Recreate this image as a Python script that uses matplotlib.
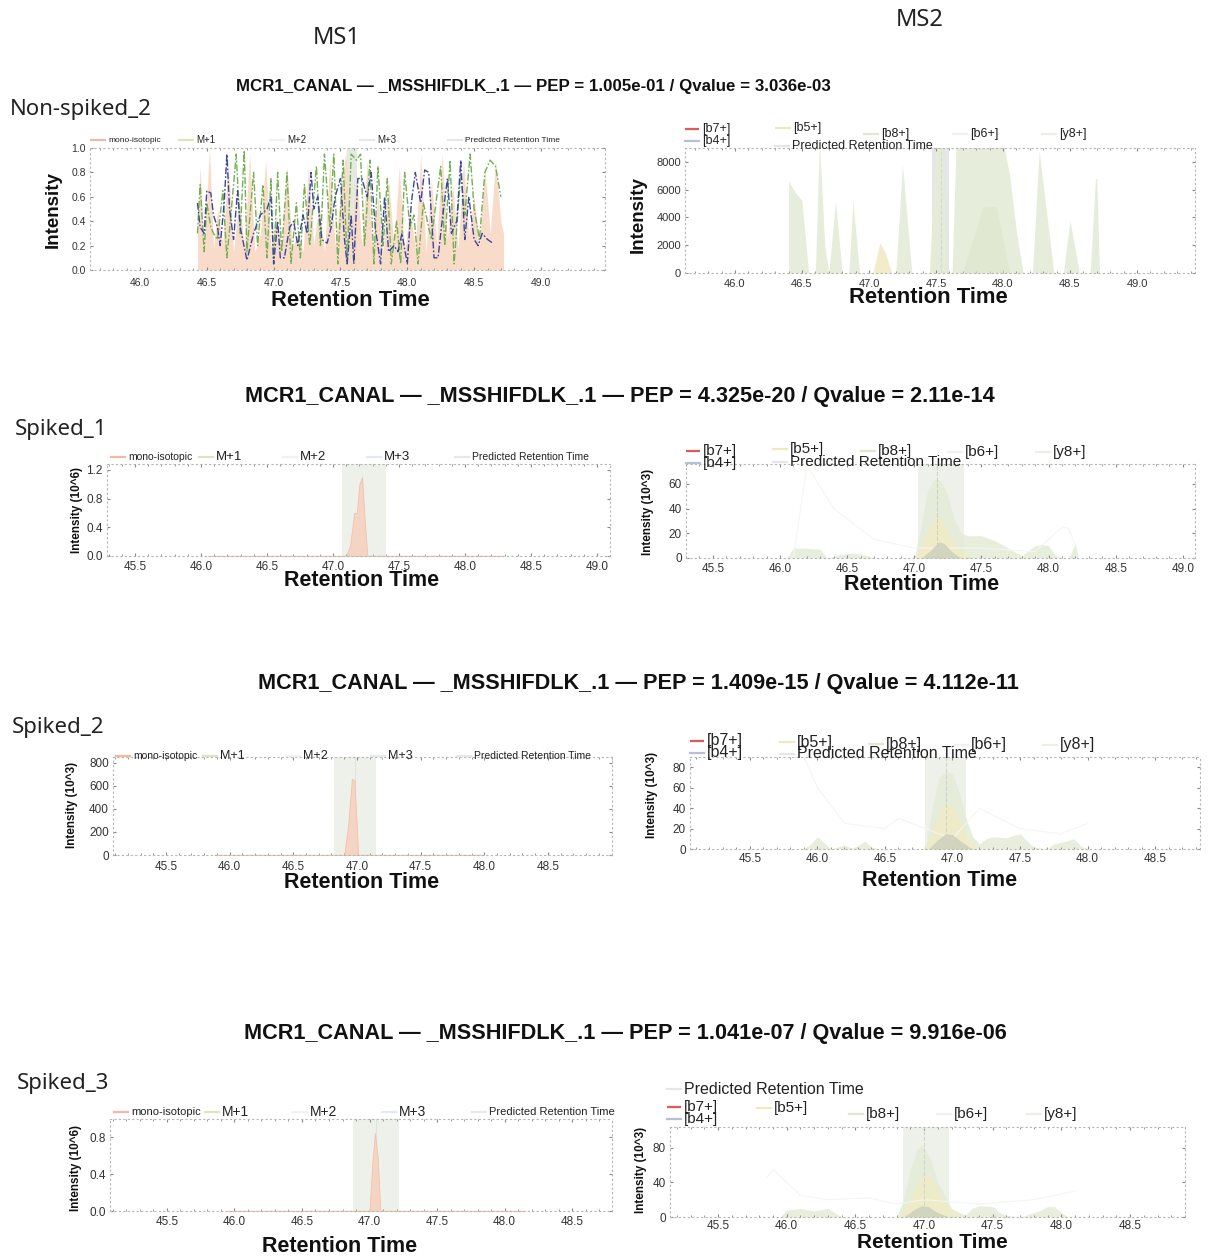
import matplotlib
matplotlib.use("Agg")
import matplotlib.pyplot as plt
from matplotlib.lines import Line2D
from matplotlib.ticker import MultipleLocator

# ---------------------------------------------------------------- data
titles = [
    "MCR1_CANAL — _MSSHIFDLK_.1 — PEP = 1.005e-01 / Qvalue = 3.036e-03",
    "MCR1_CANAL — _MSSHIFDLK_.1 — PEP = 4.325e-20 / Qvalue = 2.11e-14",
    "MCR1_CANAL — _MSSHIFDLK_.1 — PEP = 1.409e-15 / Qvalue = 4.112e-11",
    "MCR1_CANAL — _MSSHIFDLK_.1 — PEP = 1.041e-07 / Qvalue = 9.916e-06",
]
sample_names = ["Non-spiked_2", "Spiked_1", "Spiked_2", "Spiked_3"]
ms1_labels = ["mono-isotopic", "M+1", "M+2", "M+3", "Predicted Retention Time"]
ms2_labels = ["[b7+]", "[b4+]", "[b5+]", "Predicted Retention Time", "[b8+]", "[b6+]", "[y8+]"]

# Non-spiked_2, MS1 (normalised intensity)
r1_mono_t = [46.43, 46.45, 46.48, 46.52, 46.55, 46.58, 46.62, 46.66, 46.70, 46.74, 46.78,
             46.82, 46.86, 46.90, 46.94, 46.98, 47.02, 47.06, 47.10, 47.14, 47.18, 47.22,
             47.26, 47.30, 47.34, 47.38, 47.42, 47.46, 47.50, 47.54, 47.58, 47.62, 47.66,
             47.70, 47.74, 47.78, 47.82, 47.86, 47.90, 47.94, 47.98, 48.02, 48.06, 48.10,
             48.14, 48.18, 48.22, 48.26, 48.30, 48.34, 48.38, 48.42, 48.46, 48.50, 48.54,
             48.58, 48.62, 48.66, 48.70, 48.72]
r1_mono = [0.30, 0.85, 0.20, 1.00, 0.18, 0.50, 0.22, 0.90, 0.15, 0.60, 0.18,
           0.95, 0.15, 0.30, 0.90, 0.18, 0.45, 0.20, 0.85, 0.18, 0.30, 0.15,
           0.85, 0.20, 0.55, 0.15, 0.90, 0.20, 0.60, 0.98, 0.30, 0.80, 0.20,
           0.90, 0.18, 0.60, 0.15, 0.75, 0.20, 0.85, 0.15, 0.50, 0.18, 0.95,
           0.15, 0.75, 0.20, 0.95, 0.25, 0.70, 0.18, 0.90, 0.30, 0.60, 0.20,
           0.85, 0.30, 0.90, 0.40, 0.30]
r1_m1_t = [46.43, 46.45, 46.48, 46.50, 46.53, 46.55, 46.58, 46.62, 46.65, 46.68, 46.72,
           46.75, 46.78, 46.80, 46.85, 46.88, 46.92, 46.95, 46.98, 47.00, 47.03, 47.06,
           47.10, 47.13, 47.17, 47.20, 47.23, 47.27, 47.32, 47.35, 47.38, 47.42, 47.45,
           47.48, 47.52, 47.55, 47.58, 47.62, 47.65, 47.68, 47.72, 47.75, 47.78, 47.82,
           47.85, 47.88, 47.92, 47.95, 47.98, 48.02, 48.05, 48.08, 48.12, 48.15, 48.18,
           48.22, 48.25, 48.28, 48.32, 48.35, 48.40, 48.43, 48.47, 48.50, 48.54, 48.58,
           48.62, 48.66, 48.70]
r1_m1 = [0.30, 0.70, 0.15, 0.55, 0.35, 0.30, 0.25, 0.65, 0.10, 0.45, 0.95,
         0.30, 0.98, 0.15, 0.80, 0.20, 0.70, 0.10, 0.75, 0.05, 0.80, 0.15,
         0.80, 0.05, 0.55, 0.10, 0.70, 0.20, 0.85, 0.20, 0.95, 0.35, 0.95,
         0.05, 0.90, 0.05, 0.95, 0.90, 0.95, 0.20, 0.90, 0.05, 0.85, 0.20,
         0.75, 0.05, 0.40, 0.05, 0.80, 0.35, 0.45, 0.05, 0.55, 0.40, 0.25,
         0.60, 0.85, 0.20, 0.90, 0.05, 0.80, 0.45, 0.95, 0.50, 0.25, 0.80,
         0.90, 0.85, 0.60]
r1_m3_t = [46.43, 46.45, 46.48, 46.50, 46.53, 46.55, 46.58, 46.60, 46.63, 46.65, 46.67,
           46.70, 46.73, 46.75, 46.80, 46.85, 46.90, 46.95, 46.98, 47.00, 47.03, 47.05,
           47.08, 47.12, 47.15, 47.18, 47.22, 47.25, 47.28, 47.30, 47.33, 47.36, 47.40,
           47.43, 47.46, 47.50, 47.53, 47.55, 47.58, 47.60, 47.63, 47.66, 47.70, 47.73,
           47.76, 47.80, 47.83, 47.86, 47.90, 47.93, 47.96, 48.00, 48.03, 48.06, 48.10,
           48.13, 48.16, 48.20, 48.23, 48.26, 48.30, 48.33, 48.37, 48.40, 48.43, 48.46,
           48.50, 48.53, 48.56, 48.60, 48.64]
r1_m3 = [0.55, 0.35, 0.30, 0.65, 0.63, 0.45, 0.35, 0.20, 0.55, 0.95, 0.50,
         0.25, 0.65, 0.35, 0.08, 0.30, 0.45, 0.50, 0.60, 0.05, 0.40, 0.10,
         0.10, 0.35, 0.40, 0.20, 0.45, 0.30, 0.80, 0.50, 0.60, 0.25, 0.22,
         0.35, 0.60, 0.75, 0.25, 0.05, 0.45, 0.05, 0.75, 0.75, 0.60, 0.80,
         0.35, 0.05, 0.60, 0.15, 0.20, 0.15, 0.30, 0.05, 0.55, 0.80, 0.55,
         0.82, 0.80, 0.10, 0.10, 0.40, 0.75, 0.30, 0.40, 0.90, 0.25, 0.60,
         0.25, 0.20, 0.30, 0.25, 0.22]
r1_ms1_pred = (47.55, 47.62)

# Non-spiked_2, MS2 (intensity)
r1_b8_t = [46.40, 46.45, 46.50, 46.55, 46.60, 46.63, 46.67, 46.70, 46.75, 46.80, 46.85,
           46.88, 46.93, 47.00, 47.20, 47.25, 47.32, 47.45, 47.50, 47.55, 47.58, 47.62,
           47.65, 47.70, 47.80, 47.90, 48.00, 48.05, 48.10, 48.15, 48.22, 48.27, 48.38,
           48.45, 48.50, 48.57, 48.65, 48.69, 48.70, 48.72]
r1_b8 = [6600, 5800, 5200, 0, 0, 9500, 2000, 0, 5200, 0, 0,
         5200, 0, 0, 0, 7800, 0, 0, 9500, 9500, 0, 0,
         9500, 9500, 9500, 9500, 9500, 7000, 3000, 0, 0, 8800, 0,
         0, 3800, 0, 0, 6800, 6800, 0]
r1_b6_t = [47.70, 47.85, 47.95, 48.05]
r1_b6 = [0, 4800, 4800, 0]
r1_b5_t = [47.03, 47.08, 47.12, 47.17]
r1_b5 = [0, 2200, 1500, 0]
r1_ms2_pred = (47.47, 47.60)

# Spiked_1
r2_mono_t = [46.05, 47.10, 47.13, 47.16, 47.18, 47.20, 47.22, 47.24, 47.26, 48.28]
r2_mono = [0, 0, 0.15, 0.60, 0.60, 1.00, 1.10, 0.50, 0, 0]
r2_ms1_pred = (47.07, 47.40)
r2_b8_t = [46.05, 46.10, 46.20, 46.30, 46.35, 46.45, 46.55, 46.65, 46.70, 47.00, 47.05,
           47.10, 47.15, 47.20, 47.25, 47.30, 47.35, 47.40, 47.50, 47.60, 47.70, 47.80,
           47.90, 47.95, 48.00, 48.05, 48.10, 48.15, 48.20, 48.22]
r2_b8 = [0, 8, 8, 7, 0, 3, 4, 2, 0, 0, 25,
         55, 64, 62, 50, 30, 20, 18, 18, 14, 8, 2,
         10, 11, 10, 2, 0, 0, 12, 0]
r2_b5_t = [47.00, 47.05, 47.10, 47.15, 47.18, 47.22, 47.28, 47.35, 47.45]
r2_b5 = [0, 8, 22, 33, 35, 28, 15, 5, 0]
r2_b4_t = [47.05, 47.12, 47.18, 47.22, 47.28, 47.35]
r2_b4 = [0, 6, 13, 12, 5, 0]
r2_y8_t = [46.10, 46.20, 46.40, 46.70, 47.00, 47.50, 47.90, 48.00, 48.10, 48.15, 48.20]
r2_y8 = [0, 75, 40, 15, 8, 8, 5, 15, 25, 24, 10]
r2_ms2_pred = (47.03, 47.37)
r2_ms2_rt = 47.17

# Spiked_2
r3_mono_t = [45.88, 46.90, 46.93, 46.96, 46.98, 47.01, 48.00]
r3_mono = [0, 0, 250, 660, 650, 0, 0]
r3_ms1_pred = (46.82, 47.15)
r3_b8_t = [45.90, 45.95, 46.00, 46.05, 46.10, 46.15, 46.20, 46.25, 46.30, 46.35, 46.40,
           46.45, 46.80, 46.85, 46.90, 46.95, 47.00, 47.05, 47.10, 47.15, 47.20, 47.25,
           47.30, 47.40, 47.50, 47.55, 47.60, 47.70, 47.75, 47.85, 47.90, 47.95, 48.00]
r3_b8 = [0, 5, 12, 6, 0, 2, 4, 1, 3, 8, 2,
         0, 0, 40, 70, 75, 74, 55, 30, 12, 5, 10,
         12, 11, 15, 8, 2, 0, 5, 8, 10, 3, 0]
r3_b5_t = [46.78, 46.85, 46.90, 46.95, 47.00, 47.05, 47.12, 47.20]
r3_b5 = [0, 15, 35, 45, 42, 28, 8, 0]
r3_b4_t = [46.82, 46.90, 46.95, 47.00, 47.08, 47.15]
r3_b4 = [0, 10, 15, 14, 6, 0]
r3_y8_t = [45.90, 46.00, 46.20, 46.50, 46.60, 47.00, 47.20, 47.50, 47.80, 48.00]
r3_y8 = [90, 60, 25, 20, 30, 10, 40, 20, 15, 25]
r3_ms2_pred = (46.80, 47.10)
r3_ms2_rt = 46.95

# Spiked_3
r4_mono_t = [45.95, 47.00, 47.02, 47.04, 47.06, 47.08, 48.15]
r4_mono = [0, 0, 0.50, 0.85, 0.60, 0, 0]
r4_ms1_pred = (46.88, 47.22)
r4_b8_t = [45.95, 46.00, 46.10, 46.20, 46.30, 46.35, 46.40, 46.80, 46.85, 46.90, 46.95,
           46.98, 47.00, 47.05, 47.10, 47.20, 47.30, 47.35, 47.40, 47.50, 47.55, 47.60,
           47.70, 47.80, 47.85, 47.90, 47.95, 48.00, 48.05]
r4_b8 = [0, 8, 10, 7, 10, 5, 0, 0, 20, 55, 78,
         83, 80, 65, 40, 10, 2, 10, 13, 12, 5, 2,
         0, 5, 8, 12, 12, 5, 0]
r4_b5_t = [46.82, 46.90, 46.95, 47.00, 47.05, 47.12, 47.20, 47.28]
r4_b5 = [0, 20, 40, 50, 45, 25, 8, 0]
r4_b4_t = [46.85, 46.92, 46.98, 47.03, 47.10, 47.18]
r4_b4 = [0, 8, 13, 12, 5, 0]
r4_y8_t = [45.85, 45.90, 46.00, 46.10, 46.30, 46.60, 46.80, 47.00, 47.40, 47.80, 48.10]
r4_y8 = [45, 55, 40, 25, 20, 22, 15, 20, 15, 20, 30]
r4_ms2_pred = (46.85, 47.18)
r4_ms2_rt = 47.00

# ---------------------------------------------------------------- fonts
SANS = "Liberation Sans"
plt.rcParams["font.family"] = [SANS, "DejaVu Sans"]

# ---------------------------------------------------------------- figure
W, H = 1208, 1259
fig = plt.figure(figsize=(W / 100, H / 100), dpi=100)
fig.patch.set_facecolor("white")

MONO = "#f7d3c1"
MONO_EDGE = "#f2bfab"
MONO_R1 = "#f8d9c4"
B8 = "#e4ecd6"
B5 = "#f0ecc6"
B4 = "#c9ccba"
PRED = "#eef0ea"
FAINT = "#f5f5f1"


def fx(px):
    return px / W


def fy(py):
    return 1 - py / H


def axes_px(l, t, r, b):
    return fig.add_axes([fx(l), fy(b), (r - l) / W, (b - t) / H])


def style(ax, xlim, ylim, xticks, yticks, ytl, fs, xpad):
    ax.set_xlim(xlim)
    ax.set_ylim(ylim)
    for s in ax.spines.values():
        s.set_linestyle((0, (1, 3)))
        s.set_color("#b5b5b5")
        s.set_linewidth(0.8)
    ax.set_xticks(xticks)
    ax.set_xticklabels([f"{t:.1f}" for t in xticks])
    ax.set_yticks(yticks)
    ax.set_yticklabels(ytl)
    ax.xaxis.set_minor_locator(MultipleLocator(0.1))
    ax.tick_params(which="both", direction="in", color="#888888",
                   top=True, right=True)
    ax.tick_params(which="major", length=2.5, width=0.8, labelsize=fs,
                   labelcolor="#333333")
    ax.tick_params(axis="x", which="major", pad=xpad)
    ax.tick_params(axis="y", which="major", pad=3)
    ax.tick_params(which="minor", length=1.5, width=0.6)
    ax.tick_params(axis="y", which="minor", left=False, right=False)


def legend_item(x, y, text, color, fs, ls="-", hl=14):
    fig.add_artist(Line2D([fx(x - hl - 3), fx(x - 3)], [fy(y), fy(y)],
                          color=color, lw=1.6, ls=ls, transform=fig.transFigure))
    fig.text(fx(x), fy(y), text, fontsize=fs, va="center", ha="left",
             color="#222222")


ms1_handle_colors = ["#f3b7a4", "#dbe7bb", "#f1f1ee", "#e5e9f0", "#e8e8e8"]
ms2_handle_colors = ["#e05a5a", "#b9bdd8", "#eee9c0", "#e6e6e6", "#e0e8d2", "#f0f0f0", "#eeeee8"]


def ms1_legend(xs, y, fs_small, fs_big):
    for i, (x, lab, c) in enumerate(zip(xs, ms1_labels, ms1_handle_colors)):
        f = fs_small if i in (0, 4) else fs_big
        legend_item(x, y, lab, c, f)


def ms2_legend(pos, fs, order=range(7)):
    for (x, y), i in zip(pos, order):
        legend_item(x, y, ms2_labels[i], ms2_handle_colors[i], fs,
                    ls="-." if i == 0 else "-")


def xlabel(x, y, fs=15.5):
    fig.text(fx(x), fy(y), "Retention Time", fontsize=fs, fontweight="bold",
             ha="center", va="center", color="#111111")


def ylabel(x, y, text, fs):
    fig.text(fx(x), fy(y), text, fontsize=fs, fontweight="bold", rotation=90,
             ha="center", va="center", color="#111111")


# ---------------------------------------------------------------- headers
fig.text(fx(337), fy(38), "MS1", fontsize=17, ha="center", va="center",
         family="Noto Sans", color="#222222")
fig.text(fx(920), fy(20), "MS2", fontsize=17, ha="center", va="center",
         family="Noto Sans", color="#222222")
title_pos = [(533, 87), (620, 396), (638, 683), (625, 1033)]
name_pos = [(10, 110), (15, 430), (12, 727), (17, 1083)]
for i, (t, (x, y)) in enumerate(zip(titles, title_pos)):
    fig.text(fx(x), fy(y), t, fontsize=12.2 if i == 0 else 15.6, fontweight="bold",
             ha="center", va="center", color="#111111")
for n, (x, y) in zip(sample_names, name_pos):
    fig.text(fx(x), fy(y), n, fontsize=16, ha="left", va="center",
             family="Noto Sans", color="#222222")

dashdot = (0, (5, 1.5, 1.2, 1.5))

# ---------------------------------------------------------------- row 1
ax = axes_px(90, 148, 605, 270)
ax.axvspan(*r1_ms1_pred, color="#e6e9df", lw=0, zorder=0)
ax.fill_between(r1_mono_t, r1_mono, color=MONO_R1, alpha=0.9, lw=0, zorder=1)
ax.plot(r1_m1_t, r1_m1, color="#72b052", ls=dashdot, lw=1.0, zorder=3)
ax.plot(r1_m3_t, r1_m3, color="#3a479c", ls=dashdot, lw=1.0, zorder=4)
style(ax, (45.626, 49.479), (0, 1.0), [46.0, 46.5, 47.0, 47.5, 48.0, 48.5, 49.0],
      [0, 0.2, 0.4, 0.6, 0.8, 1.0], ["0.0", "0.2", "0.4", "0.6", "0.8", "1.0"], 7.5, 5.5)
ms1_legend([108, 196, 287, 377, 465], 140, 6, 7)
xlabel(350, 300, 15.8)
ylabel(53, 210, "Intensity", 13.5)

ax = axes_px(685, 148, 1195, 273)
ax.axvspan(*r1_ms2_pred, color="#e4e6e8", lw=0, zorder=0)
ax.fill_between(r1_b8_t, r1_b8, color=B8, alpha=0.9, lw=0, zorder=1)
ax.fill_between(r1_b6_t, r1_b6, color="#dde6cc", alpha=0.6, lw=0, zorder=2)
ax.fill_between(r1_b5_t, r1_b5, color=B5, alpha=0.9, lw=0, zorder=2)
ax.axvline(sum(r1_ms2_pred) / 2, color="#d6d8dc", lw=0.8, ls="--", zorder=3)
style(ax, (45.627, 49.433), (0, 9000), [46.0, 46.5, 47.0, 47.5, 48.0, 48.5, 49.0],
      [0, 2000, 4000, 6000, 8000], ["0", "2000", "4000", "6000", "8000"], 8, 4)
ms2_legend([(702, 129), (702, 141), (793, 128), (792, 146), (881, 134), (970, 134),
            (1059, 134)], 9)
xlabel(928, 297, 15.8)
ylabel(638, 215, "Intensity", 13.5)

# ---------------------------------------------------------------- row 2
ax = axes_px(107, 464, 610, 556)
ax.axvspan(*r2_ms1_pred, color=PRED, lw=0, zorder=0)
ax.fill_between(r2_mono_t, r2_mono, color=MONO, alpha=0.95, lw=0.6, edgecolor=MONO_EDGE,
                zorder=2)
ax.plot([r2_mono_t[0], r2_mono_t[-1]], [0, 0], color="#d2dcbc", lw=1.0, zorder=3)
style(ax, (45.288, 49.098), (0, 1.28), [45.5, 46.0, 46.5, 47.0, 47.5, 48.0, 48.5, 49.0],
      [0, 0.4, 0.8, 1.2], ["0.0", "0.4", "0.8", "1.2"], 8.5, 3.5)
ms1_legend([128, 216, 300, 384, 472], 457, 7.5, 9.5)
xlabel(362, 581)
ylabel(77, 510, "Intensity (10^6)", 8.5)

ax = axes_px(686, 464, 1195, 558)
ax.axvspan(*r2_ms2_pred, color=PRED, lw=0, zorder=0)
ax.fill_between(r2_b8_t, r2_b8, color=B8, alpha=0.85, lw=0, zorder=1)
ax.fill_between(r2_b5_t, r2_b5, color=B5, alpha=0.85, lw=0, zorder=2)
ax.fill_between(r2_b4_t, r2_b4, color=B4, alpha=0.75, lw=0, zorder=3)
ax.plot(r2_y8_t, r2_y8, color=FAINT, lw=0.8, zorder=2)
ax.axvline(r2_ms2_rt, color="#cdd1c4", lw=0.8, ls="--", zorder=4)
style(ax, (45.30, 49.09), (0, 76), [45.5, 46.0, 46.5, 47.0, 47.5, 48.0, 48.5, 49.0],
      [0, 20, 40, 60], ["0", "20", "40", "60"], 8.5, 3.5)
ms2_legend([(703, 451), (703, 463), (790, 449), (790, 462), (878, 451), (965, 452),
            (1053, 452)], 11)
xlabel(922, 584)
ylabel(648, 512, "Intensity (10^3)", 8.5)

# ---------------------------------------------------------------- row 3
ax = axes_px(113, 757, 612, 855)
ax.axvspan(*r3_ms1_pred, color=PRED, lw=0, zorder=0)
ax.fill_between(r3_mono_t, r3_mono, color=MONO, alpha=0.95, lw=0.6, edgecolor=MONO_EDGE,
                zorder=2)
ax.plot([r3_mono_t[0], r3_mono_t[-1]], [0, 0], color="#d2dcbc", lw=1.0, zorder=3)
ax.axvline(sum(r3_ms1_pred) / 2, color="#e0e3da", lw=0.8, zorder=1)
style(ax, (45.084, 49.003), (0, 850), [45.5, 46.0, 46.5, 47.0, 47.5, 48.0, 48.5],
      [0, 200, 400, 600, 800], ["0", "200", "400", "600", "800"], 8.5, 4)
ms1_legend([133, 220, 303, 388, 474], 756, 7.5, 9)
xlabel(362, 882)
ylabel(72, 805, "Intensity (10^3)", 8.5)

ax = axes_px(690, 757, 1200, 849)
ax.axvspan(*r3_ms2_pred, color=PRED, lw=0, zorder=0)
ax.fill_between(r3_b8_t, r3_b8, color=B8, alpha=0.85, lw=0, zorder=1)
ax.fill_between(r3_b5_t, r3_b5, color=B5, alpha=0.85, lw=0, zorder=2)
ax.fill_between(r3_b4_t, r3_b4, color=B4, alpha=0.75, lw=0, zorder=3)
ax.plot(r3_y8_t, r3_y8, color=FAINT, lw=0.8, zorder=2)
ax.axvline(r3_ms2_rt, color="#d2d5ca", lw=0.8, ls="--", zorder=4)
style(ax, (45.056, 48.833), (0, 90), [45.5, 46.0, 46.5, 47.0, 47.5, 48.0, 48.5],
      [0, 20, 40, 60, 80], ["0", "20", "40", "60", "80"], 8.5, 3)
ms2_legend([(707, 741), (707, 753), (797, 742), (797, 754), (886, 744), (971, 745),
            (1060, 745)], 11.5)
xlabel(940, 881)
ylabel(652, 795, "Intensity (10^3)", 8.5)

# ---------------------------------------------------------------- row 4
ax = axes_px(110, 1119, 612, 1211)
ax.axvspan(*r4_ms1_pred, color=PRED, lw=0, zorder=0)
ax.fill_between(r4_mono_t, r4_mono, color=MONO, alpha=0.95, lw=0.6, edgecolor=MONO_EDGE,
                zorder=2)
ax.plot([r4_mono_t[0], r4_mono_t[-1]], [0, 0], color="#d2dcbc", lw=1.0, zorder=3)
ax.axvline(sum(r4_ms1_pred) / 2, color="#e0e3da", lw=0.8, zorder=1)
style(ax, (45.078, 48.796), (0, 1.0), [45.5, 46.0, 46.5, 47.0, 47.5, 48.0, 48.5],
      [0, 0.4, 0.8], ["0.0", "0.4", "0.8"], 8.5, 3.5)
ms1_legend([131, 222, 310, 399, 489], 1112, 8, 10)
xlabel(340, 1246)
ylabel(76, 1168, "Intensity (10^6)", 8.5)

ax = axes_px(670, 1127, 1185, 1217)
ax.axvspan(*r4_ms2_pred, color=PRED, lw=0, zorder=0)
ax.fill_between(r4_b8_t, r4_b8, color=B8, alpha=0.85, lw=0, zorder=1)
ax.fill_between(r4_b5_t, r4_b5, color=B5, alpha=0.85, lw=0, zorder=2)
ax.fill_between(r4_b4_t, r4_b4, color=B4, alpha=0.75, lw=0, zorder=3)
ax.plot(r4_y8_t, r4_y8, color=FAINT, lw=0.8, zorder=2)
ax.axvline(r4_ms2_rt, color="#d2d5ca", lw=0.8, ls="--", zorder=4)
style(ax, (45.15, 48.90), (0, 104), [45.5, 46.0, 46.5, 47.0, 47.5, 48.0, 48.5],
      [0, 40, 80], ["0", "40", "80"], 8.5, 2)
ms2_legend([(684, 1089)], 11.5, order=[3])
ms2_legend([(684, 1107), (684, 1119), (774, 1108), (866, 1114), (954, 1114), (1044, 1114)],
           11, order=[0, 1, 2, 4, 5, 6])
xlabel(932, 1243, 15)
ylabel(641, 1170, "Intensity (10^3)", 8.5)

fig.savefig("out.png", dpi=100, facecolor="white")
